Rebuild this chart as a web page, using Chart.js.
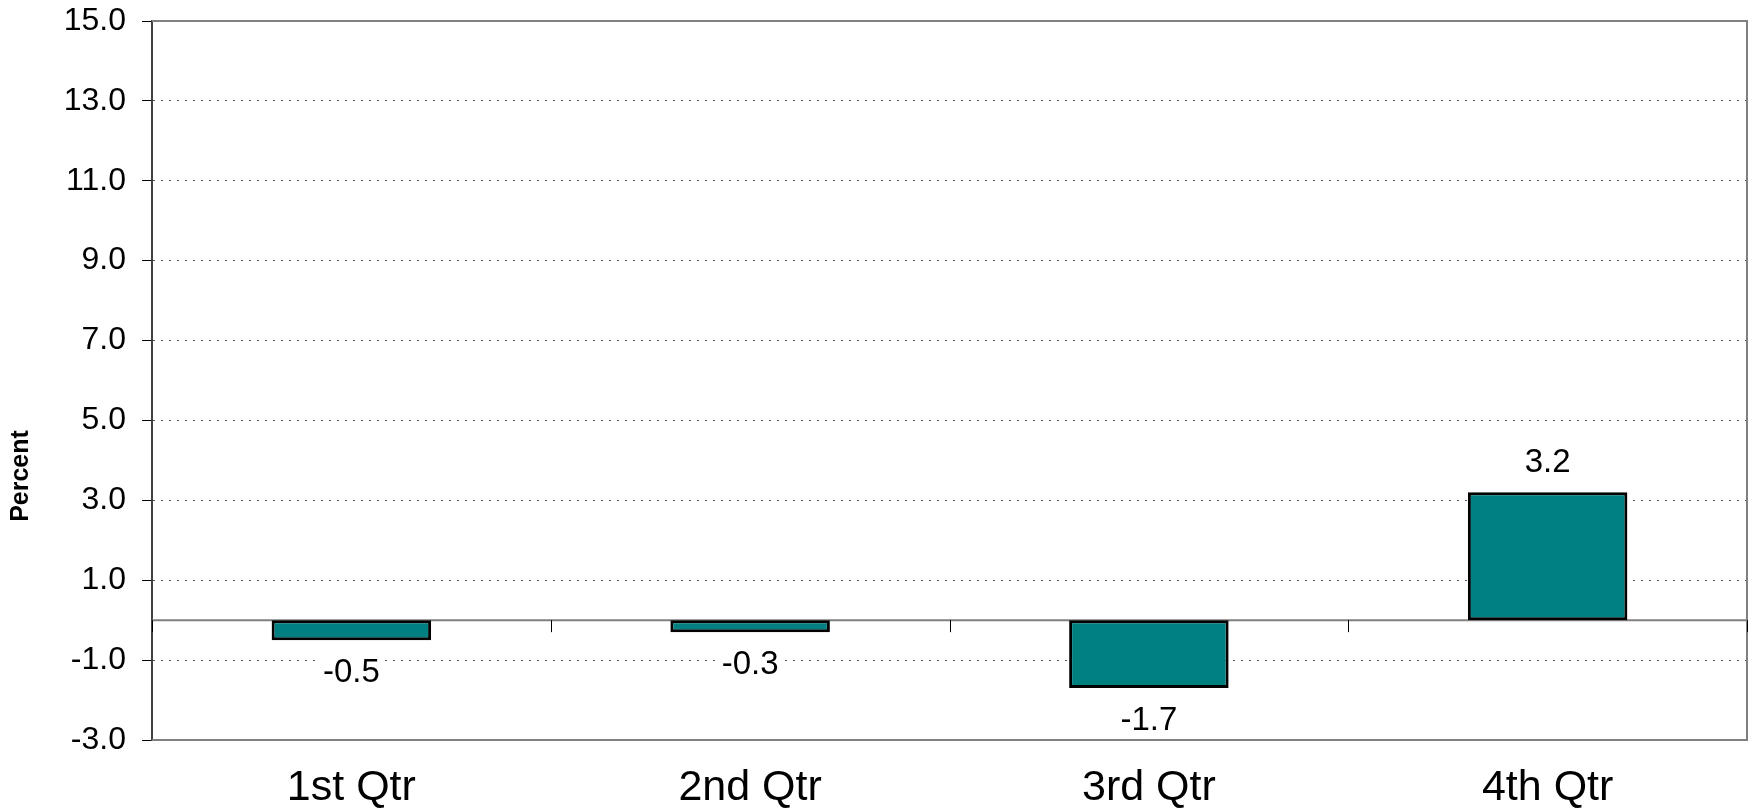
<!DOCTYPE html>
<html>
<head>
<meta charset="utf-8">
<script src="https://cdn.jsdelivr.net/npm/chart.js@4.4.1/dist/chart.umd.min.js"></script>
<style>
html, body { margin: 0; padding: 0; background: #fff; }
#wrap { width: 1752px; height: 810px; }
</style>
</head>
<body>
<div id="wrap"><canvas id="myChart" width="1752" height="810"></canvas></div>
<script>
var quarters = ['1st Qtr', '2nd Qtr', '3rd Qtr', '4th Qtr'];
var percentChange = [-0.5, -0.3, -1.7, 3.2];
var yTicks = [-3, -1, 1, 3, 5, 7, 9, 11, 13, 15];
var axisTitle = 'Percent';

var fontFamily = "'Liberation Sans', Arial, sans-serif";

// frame, zero line, category ticks, value labels, axis title
var extrasPlugin = {
    id: 'extras',
    beforeDatasetsDraw: function (chart) {
        var c = chart.ctx, a = chart.chartArea;
        var x = chart.scales.x, y = chart.scales.y;
        var zero = y.getPixelForValue(0);
        c.save();
        c.strokeStyle = '#808080';
        c.lineWidth = 2;
        c.beginPath();
        c.moveTo(a.left, a.top);
        c.lineTo(a.right, a.top);
        c.lineTo(a.right, a.bottom);
        c.lineTo(a.left, a.bottom);
        c.stroke();
        c.beginPath();
        c.moveTo(a.left, zero);
        c.lineTo(a.right, zero);
        c.stroke();
        c.strokeStyle = '#000';
        c.lineWidth = 1;
        for (var i = 0; i <= quarters.length; i++) {
            var px = Math.round(x.getPixelForValue(i - 0.5)) + 0.5;
            c.beginPath();
            c.moveTo(px, zero);
            c.lineTo(px, zero + 12);
            c.stroke();
        }
        c.restore();
    },
    afterDatasetsDraw: function (chart) {
        var c = chart.ctx;
        var meta = chart.getDatasetMeta(0);
        c.save();
        c.font = '33px ' + fontFamily;
        c.textAlign = 'center';
        c.textBaseline = 'middle';
        meta.data.forEach(function (bar, i) {
            var v = percentChange[i];
            var txt = v.toFixed(1);
            var ty = v >= 0 ? bar.y - 29 : bar.y + 33;
            var w = c.measureText(txt).width;
            c.fillStyle = '#fff';
            c.fillRect(bar.x - w / 2 - 2, ty - 14, w + 4, 28);
            c.fillStyle = '#000';
            c.fillText(txt, bar.x, ty);
        });
        c.translate(21, 476);
        c.rotate(-Math.PI / 2);
        c.font = 'bold 25px ' + fontFamily;
        c.fillText(axisTitle, 0, 0);
        c.restore();
    }
};

var ctx = document.getElementById('myChart').getContext('2d');
var myChart = new Chart(ctx, {
    type: 'bar',
    data: {
        labels: quarters,
        datasets: [{
            data: percentChange,
            backgroundColor: '#008080',
            borderColor: '#000000',
            borderWidth: 3,
            borderSkipped: false,
            categoryPercentage: 1,
            barPercentage: 0.4
        }]
    },
    options: {
        responsive: false,
        animation: false,
        layout: { padding: { left: 0, top: 21, right: 5, bottom: 0 } },
        plugins: {
            legend: { display: false },
            tooltip: { enabled: false }
        },
        scales: {
            x: {
                grid: { display: false },
                border: { display: false },
                ticks: {
                    color: '#000',
                    padding: 14,
                    font: { family: fontFamily, size: 43 }
                },
                afterFit: function (s) { s.height = 70; }
            },
            y: {
                min: -3,
                max: 15,
                afterBuildTicks: function (s) {
                    s.ticks = yTicks.map(function (v) { return { value: v }; });
                },
                afterFit: function (s) {
                    s.width = 152;
                    s.paddingTop = 0;
                    s.paddingBottom = 0;
                },
                grid: {
                    color: function (c) {
                        if (c.tick && (c.tick.value === 15 || c.tick.value === -3)) return 'rgba(0,0,0,0)';
                        return '#555555';
                    },
                    lineWidth: 1,
                    drawTicks: true,
                    tickLength: 10,
                    tickColor: '#000',
                    tickWidth: 1
                },
                border: { display: true, color: '#404040', width: 2, dash: [2, 6] },
                ticks: {
                    color: '#000',
                    padding: 16,
                    font: { family: fontFamily, size: 32 },
                    callback: function (v) { return Number(v).toFixed(1); }
                }
            }
        }
    },
    plugins: [extrasPlugin]
});
</script>
</body>
</html>
